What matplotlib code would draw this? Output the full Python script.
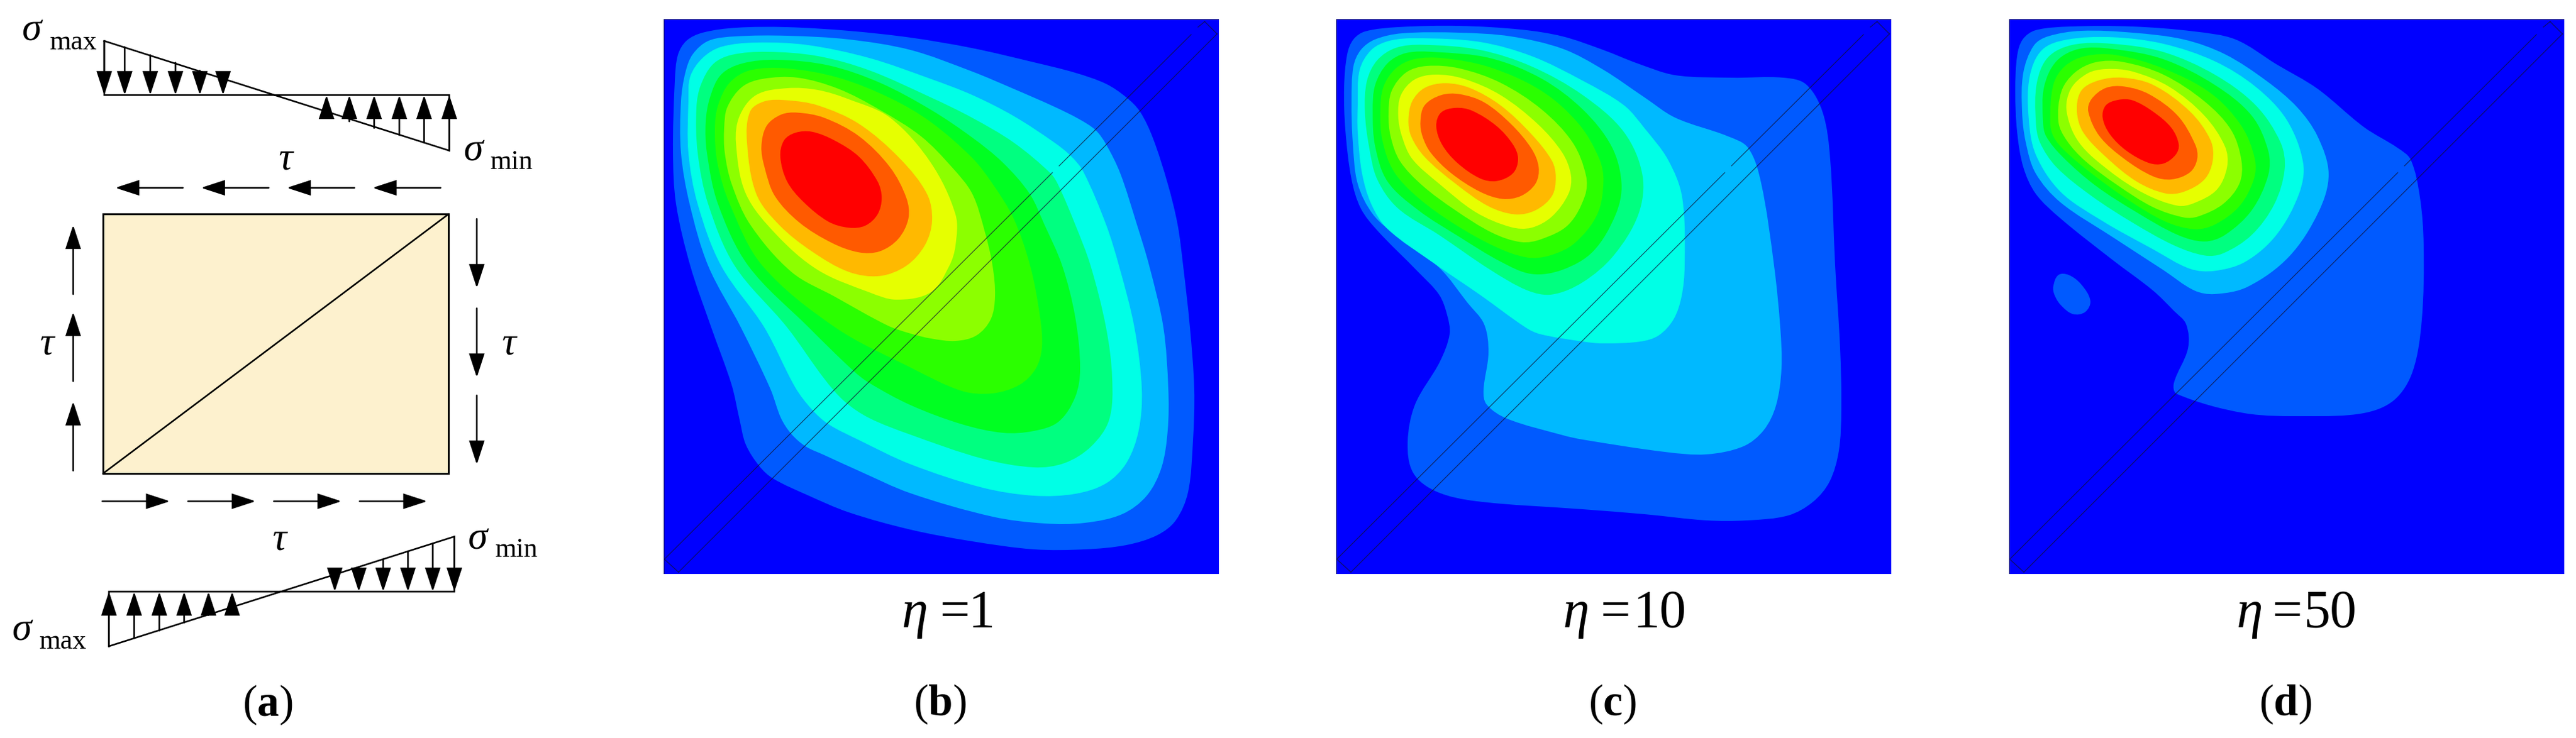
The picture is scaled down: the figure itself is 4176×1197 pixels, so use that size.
import matplotlib
matplotlib.use("Agg")
import numpy as np
import matplotlib.pyplot as plt
from matplotlib.path import Path
from matplotlib.patches import PathPatch, Rectangle

plt.rcParams['font.family'] = ['Liberation Serif', 'DejaVu Serif']
plt.rcParams['mathtext.fontset'] = 'custom'
plt.rcParams['mathtext.rm'] = 'Liberation Serif'
plt.rcParams['mathtext.it'] = 'Liberation Serif:italic'
plt.rcParams['mathtext.bf'] = 'Liberation Serif:bold'

# contour band colours, outermost first
band_colors = ['#005AFF', '#00B9FF', '#00FFE6', '#00FF80', '#00FF22', '#2BFF00',
               '#8CFF00', '#E6FF00', '#FFB900', '#FF5A00', '#FF0000']
background = '#0000FF'

# panel (b) eta=1, outlines (pixels inside the 900 px panel)
b_band1 = [(15,217),(18,100),(23,58),(37,35),(63,22),(117,14),(200,13),(300,19),(400,30),(500,47),(600,70),(667,87),(717,105),(750,127),(772,150),(793,193),(817,267),(833,333),(842,400),(853,500),(860,600),(858,683),(850,767),(830,813),(800,837),(750,853),(683,860),(600,860),(500,847),(400,828),(300,800),(233,772),(177,745),(155,725),(133,690),(123,650),(110,593),(77,500),(43,400),(20,300)]
b_band2 = [(28,133),(35,87),(47,57),(73,35),(117,28),(200,27),(300,33),(400,50),(500,85),(567,113),(633,142),(673,162),(700,180),(717,203),(740,250),(767,333),(787,400),(810,500),(818,600),(817,667),(807,727),(783,773),(743,803),(683,817),(617,818),(533,807),(400,769),(317,733),(260,707),(230,693),(207,673),(190,647),(173,600),(125,500),(72,400),(42,300),(28,217)]
b_band3 = [(40,217),(40,133),(43,93),(63,63),(93,45),(150,38),(233,42),(333,63),(433,97),(500,123),(567,157),(633,200),(660,222),(680,247),(717,333),(738,400),(763,500),(775,600),(770,667),(750,720),(717,753),(667,770),(600,773),(517,760),(400,722),(317,683),(267,657),(240,633),(213,597),(163,500),(93,400),(55,300)]
b_band4 = [(55,217),(53,143),(60,107),(80,73),(110,58),(167,53),(250,60),(333,83),(433,127),(500,160),(567,200),(627,250),(640,270),(667,333),(692,400),(717,500),(727,583),(722,650),(693,693),(650,720),(600,727),(517,713),(400,674),(333,647),(293,620),(260,583),(200,500),(115,400),(72,300)]
b_band5 = [(70,217),(68,167),(75,127),(93,90),(127,72),(183,66),(267,75),(350,103),(433,147),(500,192),(550,233),(593,283),(617,333),(646,400),(667,483),(675,567),(667,613),(640,653),(600,668),(550,671),(483,657),(400,626),(333,590),(307,570),(235,500),(137,400),(88,300)]
b_band6 = [(87,233),(83,177),(88,140),(107,103),(140,83),(200,80),(283,95),(367,128),(433,167),(500,225),(533,267),(567,323),(594,400),(610,483),(613,533),(603,567),(577,593),(533,607),(483,603),(400,565),(278,500),(160,400),(107,300)]
b_band7 = [(99,217),(98,177),(103,143),(127,110),(160,97),(217,95),(283,113),(350,147),(417,190),(467,240),(500,283),(520,343),(533,400),(537,450),(530,487),(507,513),(473,522),(433,518),(400,510),(363,497),(277,450),(207,410),(140,333),(110,267)]
b_band8 = [(117,200),(133,283),(183,350),(250,407),(333,443),(377,455),(433,443),(463,400),(473,367),(473,317),(433,233),(367,160),(300,130),(250,115),(200,112),(150,123),(123,157)]
b_band9 = [(405,600),(420,450),(490,400),(600,395),(750,420),(950,510),(1150,680),(1280,850),(1305,980),(1270,1100),(1180,1200),(1050,1250),(900,1230),(720,1130),(560,1000),(450,850)]
b_band10 = [(475,620),(500,520),(570,465),(650,455),(780,480),(950,570),(1100,720),(1180,870),(1190,970),(1140,1070),(1050,1130),(950,1135),(820,1090),(660,990),(540,860),(490,720)]
b_band11 = [(567,670),(585,590),(640,553),(720,548),(830,590),(950,670),(1040,790),(1060,870),(1040,950),(980,1005),(900,1015),(800,985),(680,890),(600,790)]

# panel (c) eta=10
c_band1 = [(13,110),(18,57),(28,33),(47,20),(100,13),(200,11),(300,17),(367,28),(433,50),(489,72),(550,91),(641,95),(725,95),(762,106),(789,152),(801,228),(809,400),(817,533),(819,633),(815,700),(800,750),(773,783),(733,805),(667,813),(600,813),(500,803),(400,795),(228,782),(162,766),(125,736),(116,686),(128,625),(168,556),(184,511),(180,480),(167,447),(133,410),(67,343),(40,307),(25,260),(15,180)]
c_band2 = [(25,133),(28,77),(40,50),(63,33),(107,23),(200,22),(283,28),(367,48),(433,82),(500,127),(550,160),(635,190),(668,209),(689,266),(710,400),(720,500),(722,567),(713,627),(693,667),(660,693),(600,706),(533,702),(400,682),(368,675),(277,648),(244,625),(239,602),(247,541),(240,495),(213,460),(167,403),(100,353),(60,317),(35,267),(27,200)]
c_band3 = [(35,140),(38,83),(57,50),(87,35),(133,31),(233,37),(317,60),(400,100),(467,140),(500,177),(538,228),(561,289),(565,400),(560,450),(547,487),(523,513),(493,523),(433,526),(400,523),(331,511),(307,500),(233,447),(160,397),(83,340),(57,300),(42,250),(35,183)]
c_band4 = [(140,450),(150,300),(200,200),(290,140),(420,125),(700,150),(950,230),(1200,370),(1400,550),(1490,760),(1470,950),(1350,1150),(1200,1280),(1050,1340),(930,1320),(750,1220),(500,1050),(300,920),(200,780),(160,620)]
c_band5 = [(178,450),(190,320),(250,215),(340,165),(480,160),(750,190),(1000,290),(1200,440),(1340,620),(1388,800),(1360,950),(1250,1130),(1100,1220),(950,1240),(800,1180),(600,1060),(400,930),(250,790),(190,620)]
c_band6 = [(215,450),(230,330),(290,240),(380,195),(520,190),(750,235),(1000,350),(1180,510),(1280,680),(1300,790),(1270,950),(1160,1090),(1040,1150),(930,1160),(780,1110),(580,1000),(400,870),(280,740),(225,590)]
c_band7 = [(255,460),(270,350),(340,260),(440,228),(600,240),(800,310),(1000,440),(1150,600),(1215,760),(1210,860),(1130,1000),(1000,1070),(900,1085),(760,1040),(580,930),(420,810),(310,690),(265,570)]
c_band8 = [(302,470),(315,370),(380,295),(480,270),(620,290),(800,370),(980,510),(1100,650),(1142,760),(1130,850),(1050,960),(950,1015),(850,1012),(680,940),(500,800),(370,680),(320,570)]
c_band9 = [(352,490),(370,400),(430,335),(530,312),(650,335),(800,420),(950,560),(1050,690),(1068,770),(1050,860),(970,930),(870,950),(740,910),(580,800),(430,670),(365,570)]
c_band10 = [(410,500),(430,420),(510,370),(600,365),(720,405),(850,510),(950,630),(985,720),(970,800),(900,860),(810,875),(700,840),(560,750),(460,650),(420,570)]
c_band11 = [(487,520),(510,455),(580,432),(660,445),(780,520),(860,610),(885,680),(860,750),(780,788),(700,775),(590,700),(515,610)]

# panel (d) eta=50
d_band1 = [(10,117),(13,60),(22,33),(43,18),(100,12),(200,12),(300,20),(367,33),(433,73),(500,113),(575,175),(630,209),(651,228),(666,289),(672,366),(669,488),(654,572),(624,618),(575,639),(484,644),(381,639),(272,608),(267,591),(290,534),(287,495),(267,473),(233,440),(167,390),(83,323),(43,283),(23,240),(13,183)]
d_blob = [(215,1300),(240,1245),(290,1245),(350,1290),(395,1370),(370,1425),(310,1435),(250,1390),(220,1340)]
d_band2 = [(21,150),(23,87),(40,43),(63,28),(117,19),(200,22),(283,33),(350,57),(417,100),(467,143),(500,190),(518,251),(502,312),(454,385),(387,434),(333,446),(300,440),(250,407),(167,353),(83,297),(43,250),(27,200)]
d_band3 = [(95,480),(100,280),(160,150),(280,100),(500,88),(750,120),(1000,205),(1200,330),(1350,490),(1430,700),(1410,850),(1300,1050),(1150,1180),(1000,1225),(880,1215),(700,1120),(450,980),(250,840),(130,660)]
d_band4 = [(130,500),(135,310),(190,185),(310,125),(500,120),(750,160),(1000,270),(1200,420),(1320,600),(1340,730),(1290,900),(1180,1050),(1040,1140),(950,1150),(800,1100),(600,990),(400,860),(230,720),(150,600)]
d_band5 = [(165,500),(170,330),(230,205),(340,145),(500,145),(750,195),(1000,320),(1180,470),(1260,640),(1260,760),(1180,930),(1050,1050),(950,1082),(820,1050),(620,940),(420,810),(260,670),(180,570)]
d_band6 = [(200,500),(215,320),(270,230),(370,180),(520,175),(750,240),(980,360),(1130,520),(1195,680),(1190,780),(1120,910),(1000,1000),(900,1022),(760,985),(580,880),(400,750),(270,640),(215,570)]
d_band7 = [(240,500),(255,350),(320,260),(420,210),(550,208),(750,270),(950,400),(1080,540),(1130,690),(1120,800),(1040,900),(920,960),(850,965),(700,915),(530,810),(370,690),(280,590)]
d_band8 = [(280,450),(300,340),(380,265),(470,243),(600,255),(780,330),(950,470),(1050,620),(1060,720),(1010,830),(900,895),(820,908),(660,850),(490,740),(340,600)]
d_band9 = [(330,450),(350,350),(430,300),(550,285),(700,320),(880,450),(980,590),(990,690),(950,780),(850,840),(760,848),(620,790),(470,670),(360,550)]
d_band10 = [(385,450),(400,390),(470,335),(560,328),(680,365),(820,470),(905,610),(915,680),(880,745),(790,780),(700,765),(560,680),(440,570)]
d_band11 = [(455,480),(470,420),(530,393),(600,395),(700,450),(790,530),(825,610),(810,660),(750,703),(680,700),(570,640),(490,560)]

# panel (a) diagram
top_down_x = [265, 317, 382, 446, 508, 567]
top_down_y = [87, 100, 117, 133, 150, 163]
top_up_x = [830, 888, 951, 1015, 1078, 1142]
top_up_y = [243, 258, 272, 287, 303, 320]
bot_up_x = [277, 341, 405, 468, 530, 590]
bot_up_y = [1373, 1356, 1340, 1323, 1307, 1293]
bot_down_x = [851, 912, 974, 1037, 1100, 1155]
bot_down_y = [1220, 1205, 1188, 1171, 1155, 1140]
tau_left_x = [(465, 293), (683, 511), (901, 729), (1120, 947)]
tau_right_x = [(260, 432), (478, 650), (696, 868), (914, 1086)]
tau_up_y = [(1000, 853), (810, 663), (625, 478)]
tau_down_y = [(465, 612), (655, 802), (840, 987)]


def third(points):
    return [(x / 3, y / 3) for x, y in points]


bands_b = [b_band1, b_band2, b_band3, b_band4, b_band5, b_band6, b_band7, b_band8,
           third(b_band9), third(b_band10), third(b_band11)]
bands_c = [c_band1, c_band2, c_band3, third(c_band4), third(c_band5), third(c_band6),
           third(c_band7), third(c_band8), third(c_band9), third(c_band10), third(c_band11)]
bands_d = [d_band1, d_band2, third(d_band3), third(d_band4), third(d_band5), third(d_band6),
           third(d_band7), third(d_band8), third(d_band9), third(d_band10), third(d_band11)]


def smooth_path(points):
    # closed spline through the read points, as cubic Bezier segments
    pts = np.array(points, dtype=float)
    n = len(pts)
    tangents = []
    for i in range(n):
        d = pts[(i + 1) % n] - pts[i - 1]
        tangents.append(d / np.hypot(*d))
    verts = [pts[0]]
    codes = [Path.MOVETO]
    for i in range(n):
        j = (i + 1) % n
        length = np.hypot(*(pts[j] - pts[i])) / 3
        verts += [pts[i] + tangents[i] * length, pts[j] - tangents[j] * length, pts[j]]
        codes += [Path.CURVE4] * 3
    return Path(verts, codes)


def arrow(ax, start, end, size=(2.4, 0.78), lw=1.9):
    style = '-|>,head_length=%g,head_width=%g' % size
    ax.annotate('', xy=end, xytext=start,
                arrowprops=dict(arrowstyle=style, mutation_scale=10, color='black',
                                lw=lw, shrinkA=0, shrinkB=0, joinstyle='miter'))


def make_axes(fig, left, top, width, height, xlim, ylim):
    W, H = fig.get_size_inches() * fig.dpi
    ax = fig.add_axes([left / W, 1 - (top + height) / H, width / W, height / H])
    ax.set_xlim(*xlim)
    ax.set_ylim(*ylim)
    ax.axis('off')
    return ax


def draw_panel_a(fig):
    ax = make_axes(fig, 0, 0, 1000, 1197, (0, 1568), (1568, 0))
    ax.add_patch(Rectangle((262, 455), 878, 551, fc='#FDF1CE', ec='black', lw=2.2))
    ax.plot([262, 1140], [1006, 455], color='black', lw=1.9)

    ax.plot([265, 265, 1142, 1142, 265], [87, 202, 202, 320, 87], color='black', lw=1.9, solid_joinstyle='miter')
    ax.plot([277, 277, 1155, 1155, 277], [1373, 1257, 1257, 1140, 1373], color='black', lw=1.9, solid_joinstyle='miter')

    for x, y in zip(top_down_x, top_down_y):
        arrow(ax, (x, y), (x, 202))
    for x, y in zip(top_up_x, top_up_y):
        arrow(ax, (x, y), (x, 202))
    for x, y in zip(bot_up_x, bot_up_y):
        arrow(ax, (x, y), (x, 1257))
    for x, y in zip(bot_down_x, bot_down_y):
        arrow(ax, (x, y), (x, 1257))
    for x0, x1 in tau_left_x:
        arrow(ax, (x0, 399), (x1, 399))
    for x0, x1 in tau_right_x:
        arrow(ax, (x0, 1065), (x1, 1065))
    for y0, y1 in tau_up_y:
        arrow(ax, (186, y0), (186, y1))
    for y0, y1 in tau_down_y:
        arrow(ax, (1212, y0), (1212, y1))

    for x, y in [(80, 65), (1202, 320), (54, 1340), (1214, 1145)]:
        ax.text(x, y, 'σ', fontsize=46, style='italic', ha='center', va='center')
    for x, y, s in [(186, 90, 'max'), (1300, 345, 'min'), (159, 1364, 'max'), (1312, 1168, 'min')]:
        ax.text(x, y, s, fontsize=32, ha='center', va='center')
    for x, y in [(726, 340), (120, 733), (1294, 733), (711, 1148)]:
        ax.text(x, y, 'τ', fontsize=46, style='italic', ha='center', va='center')
    ax.text(680, 1497, r'($\mathbf{a}$)', fontsize=51, ha='center', va='center')


def draw_contour_panel(fig, left, bands, value, eta_x, equals_x, value_x, letter, extra=()):
    ax = make_axes(fig, left, 31, 900, 900, (0, 900), (900, 0))
    ax.add_patch(Rectangle((0, 0), 900, 900, fc=background, ec='none'))
    for outline, color in zip(bands, band_colors):
        ax.add_patch(PathPatch(smooth_path(outline), fc=color, ec='none'))
        if outline is bands[0]:
            for blob in extra:
                ax.add_patch(PathPatch(smooth_path(blob), fc=color, ec='none'))

    # thin diagonal strip with its two small breaks on the upper line
    ln = dict(color='#111133', lw=0.9, alpha=0.75)
    ax.plot([1, 630], [876, 249], **ln)
    ax.plot([641, 855], [238, 25], **ln)
    ax.plot([866, 877], [13, 4], **ln)
    ax.plot([24, 897], [897, 24], **ln)
    ax.plot([1, 24], [876, 897], **ln)
    ax.plot([877, 897], [4, 24], **ln)
    # darker edge along the top and left of the panel
    ax.plot([0, 0, 900], [900, 0, 0], color='#000070', lw=1.0)

    ax.text(eta_x, 965, 'η', fontsize=62, style='italic', ha='center', va='center')
    ax.text(equals_x, 965, '=', fontsize=62, ha='center', va='center')
    ax.text(value_x, 965, value, fontsize=62, ha='center', va='center')
    ax.text(448, 1111, letter, fontsize=51, ha='center', va='center')


def main():
    fig = plt.figure(figsize=(41.76, 11.97), dpi=100, facecolor='white')
    draw_panel_a(fig)
    draw_contour_panel(fig, 1076, bands_b, '1', 407, 472, 515, r'($\mathbf{b}$)')
    draw_contour_panel(fig, 2166, bands_c, '10', 389, 453, 524, r'($\mathbf{c}$)')
    draw_contour_panel(fig, 3257, bands_d, '50', 390, 451, 521, r'($\mathbf{d}$)', extra=[third(d_blob)])
    fig.savefig('out.png', dpi=100, facecolor='white')


if __name__ == "__main__":
    main()
